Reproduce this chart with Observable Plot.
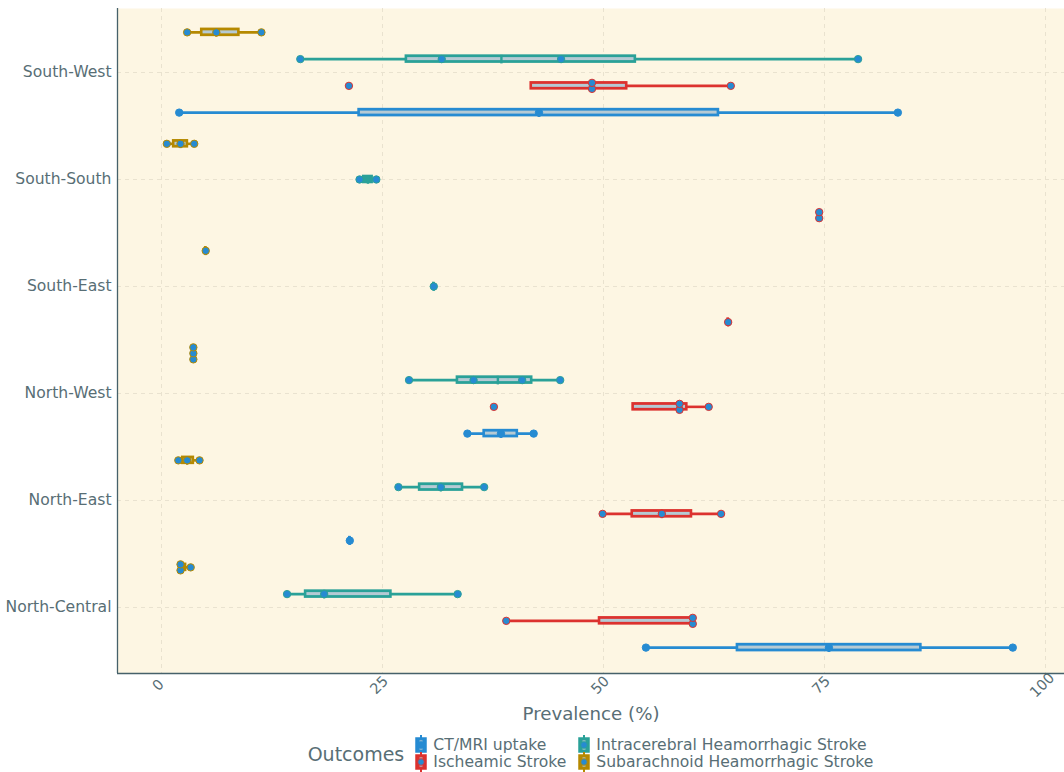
<!DOCTYPE html>
<html>
<head>
<meta charset="utf-8">
<script src="https://cdn.jsdelivr.net/npm/d3@7"></script>
<script src="https://cdn.jsdelivr.net/npm/@observablehq/plot@0.6"></script>
<style>
  body { margin: 0; background: #ffffff; font-family: "DejaVu Sans", sans-serif; }
  #chart svg { display: block; }
  #legend { width: 1064px; height: 37px; box-sizing: border-box; padding-left: 117px;
            display: flex; justify-content: center; align-items: center; color: #586e75; }
  #legend .title { font-size: 19px; margin-right: 10px; }
  #legend .grid { display: grid; grid-template-columns: 163px auto; grid-auto-rows: 17px; }
  #legend .item { display: flex; align-items: center; font-size: 15.6px; white-space: nowrap; }
  #legend .item svg { margin-right: 5px; flex: none; }
</style>
</head>
<body>
<div id="chart"></div>
<div id="legend"></div>
<script>
// ---- data ----
const regions = ["North-Central", "North-East", "North-West", "South-East", "South-South", "South-West"];
const outcomes = ["CT/MRI uptake", "Ischeamic Stroke", "Intracerebral Heamorrhagic Stroke", "Subarachnoid Heamorrhagic Stroke"];
const outcomeColors = ["#268bd2", "#dc322f", "#2aa198", "#b58900"];
// values per region, in the same order as `regions`
const ctMri        = [[54.8, 75.5, 96.3], [21.3], [34.6, 38.4, 42.1], [], [], [2.0, 42.7, 83.3]];
const ischeamic    = [[39.0, 60.1, 60.1], [49.9, 56.6, 63.3], [37.6, 58.6, 58.6, 61.9], [64.1], [74.4, 74.4], [21.2, 48.7, 48.7, 64.4]];
const intracerebral= [[14.2, 18.4, 33.5], [26.8, 31.6, 36.5], [28.0, 35.3, 40.8, 45.1], [30.8], [22.4, 24.3], [15.7, 31.7, 45.2, 78.8]];
const subarachnoid = [[2.15, 2.15, 3.3], [1.9, 2.9, 4.3], [3.6, 3.6, 3.6], [5.0], [0.6, 2.15, 3.7], [2.9, 6.2, 11.3]];
const xTicks = [0, 25, 50, 75, 100];

// ---- derived boxplot statistics (Tukey) and dodged positions ----
const series = [ctMri, ischeamic, intracerebral, subarachnoid];
const boxes = [];
const points = [];
regions.forEach((region, r) => {
  const present = outcomes.map((o, k) => k).filter(k => series[k][r].length > 0);
  const n = present.length;
  present.forEach((k, i) => {
    const vals = series[k][r].slice().sort(d3.ascending);
    const pos = r + 1 + (i + 0.5) / n - 0.5;
    const q1 = d3.quantile(vals, 0.25), med = d3.quantile(vals, 0.5), q3 = d3.quantile(vals, 0.75);
    const iqr = q3 - q1;
    const lo = d3.min(vals.filter(v => v >= q1 - 1.5 * iqr));
    const hi = d3.max(vals.filter(v => v <= q3 + 1.5 * iqr));
    boxes.push({outcome: outcomes[k], region, pos, q1, med, q3, lo, hi});
    const counts = d3.rollup(vals, g => g.length, v => v);
    const seen = new Map();
    vals.forEach(v => {
      const m = counts.get(v), j = seen.get(v) || 0;
      seen.set(v, j + 1);
      points.push({outcome: outcomes[k], region, value: v, pos: pos + (j - (m - 1) / 2) * 0.056});
    });
  });
});

const xDomain = [-4.98, 102.15];
const yDomain = [0.383, 6.598];
const textColor = "#586e75";
const axisColor = "#46616a";
const gridColor = "#e9e2cf";
const boxFill = "#b5cad4";
const half = 0.04, innerHalf = 0.014;

const chart = Plot.plot({
  width: 1064,
  height: 735,
  marginLeft: 117,
  marginRight: 0,
  marginTop: 8,
  marginBottom: 62,
  x: {domain: xDomain},
  y: {domain: yDomain},
  color: {domain: outcomes, range: outcomeColors},
  style: {fontFamily: "'DejaVu Sans', sans-serif", color: textColor, background: "transparent"},
  marks: [
    Plot.frame({fill: "#fdf6e3", stroke: null}),
    Plot.gridX(xTicks, {stroke: gridColor, strokeOpacity: 1, strokeDasharray: "4,4"}),
    Plot.gridY(d3.range(1, 7), {stroke: gridColor, strokeOpacity: 1, strokeDasharray: "4,4"}),
    Plot.axisY(d3.range(1, 7), {tickSize: 0, tickPadding: 6, tickFormat: d => regions[d - 1], fontSize: 15.6, fill: textColor, label: null}),
    Plot.axisX([], {label: null}),
    Plot.text(xTicks, {x: d => d, text: d => String(d), frameAnchor: "bottom", dy: 15, rotate: -45, textAnchor: "middle", fontSize: 14.5, fill: textColor}),
    Plot.text(["Prevalence (%)"], {frameAnchor: "bottom", dy: 46, fontSize: 18.2, fill: textColor}),
    Plot.ruleX([xDomain[0]], {stroke: axisColor, strokeWidth: 1.3}),
    Plot.ruleY([yDomain[0]], {stroke: axisColor, strokeWidth: 1.3}),
    // whiskers
    Plot.link(boxes, {x1: "lo", x2: "hi", y1: "pos", y2: "pos", stroke: "outcome", strokeWidth: 2.6}),
    // box outline (filled in outcome colour)
    Plot.rect(boxes, {x1: "q1", x2: "q3", y1: d => d.pos - half, y2: d => d.pos + half, fill: "outcome", insetLeft: -1.3, insetRight: -1.3}),
    // inner light fill
    Plot.rect(boxes.filter(d => (d.q3 - d.q1) > 1.05), {x1: "q1", x2: "q3", y1: d => d.pos - innerHalf, y2: d => d.pos + innerHalf, fill: boxFill, insetLeft: 1.3, insetRight: 1.3}),
    // median
    Plot.link(boxes, {x1: "med", x2: "med", y1: d => d.pos - half, y2: d => d.pos + half, stroke: "outcome", strokeWidth: 2.4}),
    // observations
    Plot.dot(points, {x: "value", y: "pos", r: 3.7, fill: "#268bd2", stroke: "outcome", strokeWidth: 1})
  ]
});
document.getElementById("chart").appendChild(chart);

// ---- legend ----
function keySvg(color) {
  return `<svg width="14" height="20" viewBox="0 0 14 20">
    <line x1="7" y1="0" x2="7" y2="20" stroke="${color}" stroke-width="2"/>
    <rect x="2" y="3" width="10" height="14" fill="${color}" stroke="${color}" stroke-width="1.5"/>
    <rect x="5.5" y="5" width="3" height="10" fill="${boxFill}" opacity="0.6"/>
    <line x1="2" y1="10" x2="12" y2="10" stroke="${color}" stroke-width="2"/>
    <circle cx="7" cy="10" r="3.3" fill="#268bd2" stroke="${color}" stroke-width="0.8"/>
  </svg>`;
}
const legendOrder = [0, 2, 1, 3];
const legend = document.getElementById("legend");
legend.innerHTML = `<span class="title">Outcomes</span><div class="grid">` +
  legendOrder.map(k => `<div class="item">${keySvg(outcomeColors[k])}<span>${outcomes[k]}</span></div>`).join("") +
  `</div>`;
</script>
</body>
</html>
